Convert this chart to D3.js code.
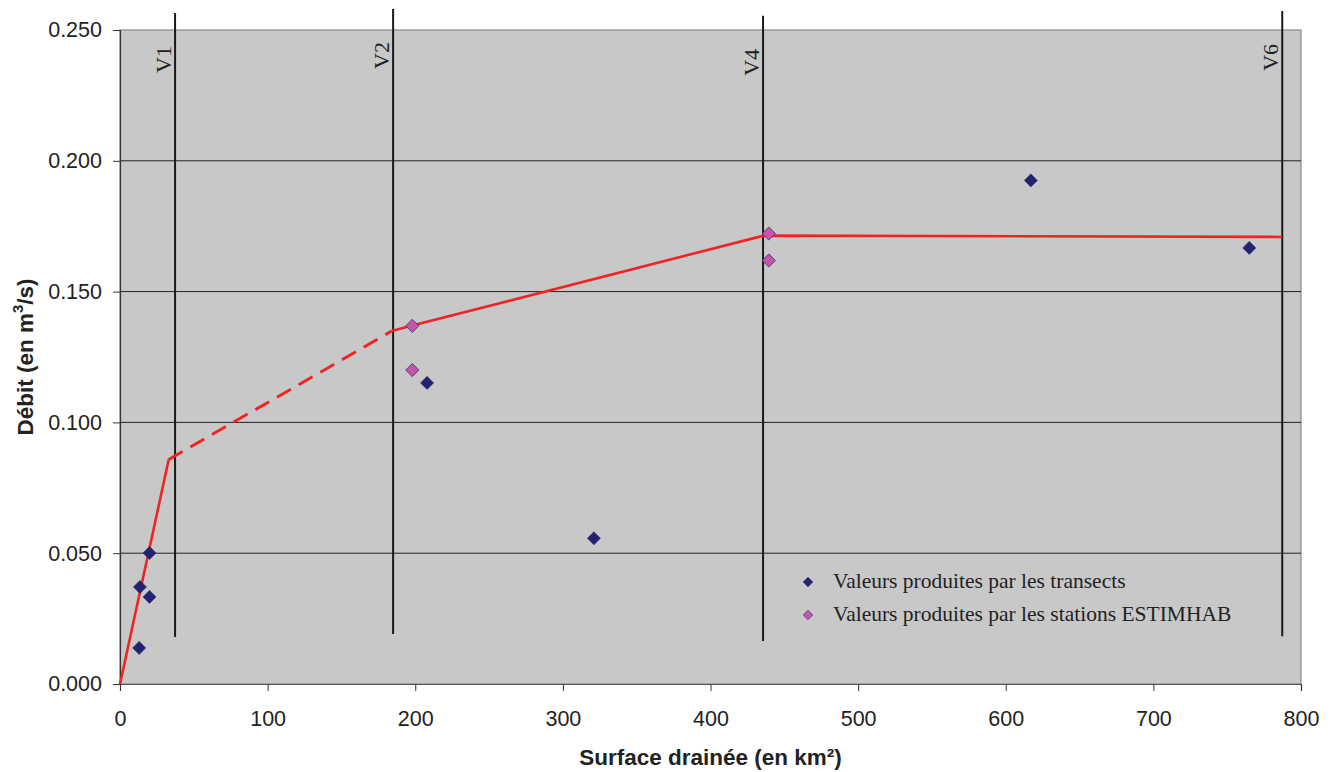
<!DOCTYPE html>
<html>
<head>
<meta charset="utf-8">
<script src="https://cdn.jsdelivr.net/npm/d3@7/dist/d3.min.js"></script>
<style>
  body { margin: 0; background: #fff; }
  svg { display: block; }
</style>
</head>
<body>
<svg id="chart" width="1335" height="772"></svg>
<script>
// surface drainée (km²) / débit (m3/s)
const transectsX = [13, 13.5, 20, 20, 208, 321, 617, 765];
const transectsY = [0.0138, 0.0371, 0.0333, 0.0501, 0.1151, 0.0557, 0.1925, 0.1667];

const estimhabX = [198, 198, 439.5, 439.5];
const estimhabY = [0.1369, 0.1200, 0.1722, 0.1619];

// courbe retenue (trait plein / pointillé)
const courbeSolideA = [[0, 0], [33, 0.0858]];
const courbePointillee = [[33, 0.0858], [184, 0.1349]];
const courbeSolideB = [[184, 0.1349], [198, 0.137], [436, 0.1714], [787, 0.1709]];

// limites verticales des tronçons
const troncons = ['V1', 'V2', 'V4', 'V6'];
const tronconsX = [37.3, 185, 435.6, 787.3];
const tronconsHaut = [0.2565, 0.258, 0.2554, 0.2573];
const tronconsBas = [0.018, 0.0191, 0.0164, 0.0183];

const xTicks = [0, 100, 200, 300, 400, 500, 600, 700, 800];
const yTicks = [0, 0.05, 0.1, 0.15, 0.2, 0.25];

const svg = d3.select('#chart');
const width = +svg.attr('width');
const height = +svg.attr('height');
const margin = { top: 30, right: 34, bottom: 88, left: 120 };
const sans = 'Liberation Sans, Arial, sans-serif';
const serif = 'Liberation Serif, Times New Roman, serif';

const x = d3.scaleLinear().domain([0, 800]).range([margin.left, width - margin.right]);
const y = d3.scaleLinear().domain([0, 0.25]).range([height - margin.bottom, margin.top]);

// fond du graphique
svg.append('rect')
  .attr('x', x(0)).attr('y', y(0.25))
  .attr('width', x(800) - x(0)).attr('height', y(0) - y(0.25))
  .attr('fill', '#c8c8c8')
  .attr('stroke', '#8a8a8a')
  .attr('stroke-width', 1.2);

// quadrillage horizontal
svg.append('g')
  .selectAll('line')
  .data(yTicks.filter(d => d > 0 && d < 0.25))
  .join('line')
  .attr('x1', x(0)).attr('x2', x(800))
  .attr('y1', d => y(d)).attr('y2', d => y(d))
  .attr('stroke', '#222').attr('stroke-width', 1);

// axe Y
const yAxis = svg.append('g')
  .attr('transform', `translate(${x(0)},0)`)
  .call(d3.axisLeft(y).tickValues(yTicks).tickFormat(d3.format('.3f')).tickSize(7).tickPadding(11));
yAxis.select('.domain').attr('stroke', '#333').attr('stroke-width', 1.2);
yAxis.selectAll('.tick line').attr('stroke', '#333');
yAxis.selectAll('text')
  .attr('font-family', sans)
  .attr('font-size', 21.5).attr('fill', '#222');

// axe X
const xAxis = svg.append('g')
  .attr('transform', `translate(0,${y(0)})`)
  .call(d3.axisBottom(x).tickValues(xTicks).tickSize(7).tickPadding(20));
xAxis.select('.domain').attr('stroke', '#555').attr('stroke-width', 1.2);
xAxis.selectAll('.tick line').attr('stroke', '#333');
xAxis.selectAll('text')
  .attr('font-family', sans)
  .attr('font-size', 21.5).attr('fill', '#222');

// titres des axes
svg.append('text')
  .attr('x', (x(0) + x(800)) / 2).attr('y', 765)
  .attr('text-anchor', 'middle')
  .attr('font-family', sans)
  .attr('font-size', 22.5).attr('font-weight', 'bold').attr('fill', '#222')
  .text('Surface drainée (en km²)');

const yTitle = svg.append('text')
  .attr('transform', `translate(33,${(y(0) + y(0.25)) / 2}) rotate(-90)`)
  .attr('text-anchor', 'middle')
  .attr('font-family', sans)
  .attr('font-size', 22.5).attr('font-weight', 'bold').attr('fill', '#222');
yTitle.append('tspan').text('Débit (en m');
yTitle.append('tspan').attr('dy', -10).attr('font-size', 15).text('3');
yTitle.append('tspan').attr('dy', 10).text('/s)');

// limites des tronçons
const tr = svg.append('g').selectAll('g')
  .data(troncons.map((t, i) => ({ nom: t, x: tronconsX[i], haut: tronconsHaut[i], bas: tronconsBas[i] })))
  .join('g');
tr.append('line')
  .attr('x1', d => x(d.x)).attr('x2', d => x(d.x))
  .attr('y1', d => y(d.haut)).attr('y2', d => y(d.bas))
  .attr('stroke', '#1a1a1a').attr('stroke-width', 2);
tr.append('text')
  .attr('transform', d => `translate(${x(d.x) - 4},${y(d.haut) + 33}) rotate(-90)`)
  .attr('text-anchor', 'end')
  .attr('font-family', serif)
  .attr('font-size', 22).attr('fill', '#222')
  .text(d => d.nom);

// courbe rouge
const line = d3.line().x(d => x(d[0])).y(d => y(d[1]));
svg.append('path').datum(courbeSolideA).attr('d', line)
  .attr('fill', 'none').attr('stroke', '#ee2424').attr('stroke-width', 2.6);
svg.append('path').datum(courbePointillee).attr('d', line)
  .attr('fill', 'none').attr('stroke', '#ee2424').attr('stroke-width', 2.9)
  .attr('stroke-dasharray', '16,9');
svg.append('path').datum(courbeSolideB).attr('d', line)
  .attr('fill', 'none').attr('stroke', '#ee2424').attr('stroke-width', 2.6);

// points
const diamond = d3.symbol().type(d3.symbolDiamond2).size(110);
svg.append('g').selectAll('path')
  .data(transectsX.map((v, i) => [v, transectsY[i]]))
  .join('path')
  .attr('d', diamond)
  .attr('transform', d => `translate(${x(d[0])},${y(d[1])})`)
  .attr('fill', '#232371').attr('stroke', '#232371').attr('stroke-width', 0.5);

svg.append('g').selectAll('path')
  .data(estimhabX.map((v, i) => [v, estimhabY[i]]))
  .join('path')
  .attr('d', diamond)
  .attr('transform', d => `translate(${x(d[0])},${y(d[1])})`)
  .attr('fill', '#c455a8').attr('stroke', '#3a2a80').attr('stroke-width', 0.8);

// légende
const legend = svg.append('g').attr('transform', 'translate(808,582)');
const legendItems = [
  { label: 'Valeurs produites par les transects', fill: '#232371', stroke: '#232371' },
  { label: 'Valeurs produites par les stations ESTIMHAB', fill: '#c455a8', stroke: '#3a2a80' }
];
const li = legend.selectAll('g').data(legendItems).join('g')
  .attr('transform', (d, i) => `translate(0,${i * 33})`);
li.append('path')
  .attr('d', d3.symbol().type(d3.symbolDiamond2).size(60))
  .attr('fill', d => d.fill).attr('stroke', d => d.stroke).attr('stroke-width', 0.6);
li.append('text')
  .attr('x', 25).attr('y', 6)
  .attr('font-family', serif)
  .attr('font-size', 21.5).attr('fill', '#222')
  .text(d => d.label);
</script>
</body>
</html>
